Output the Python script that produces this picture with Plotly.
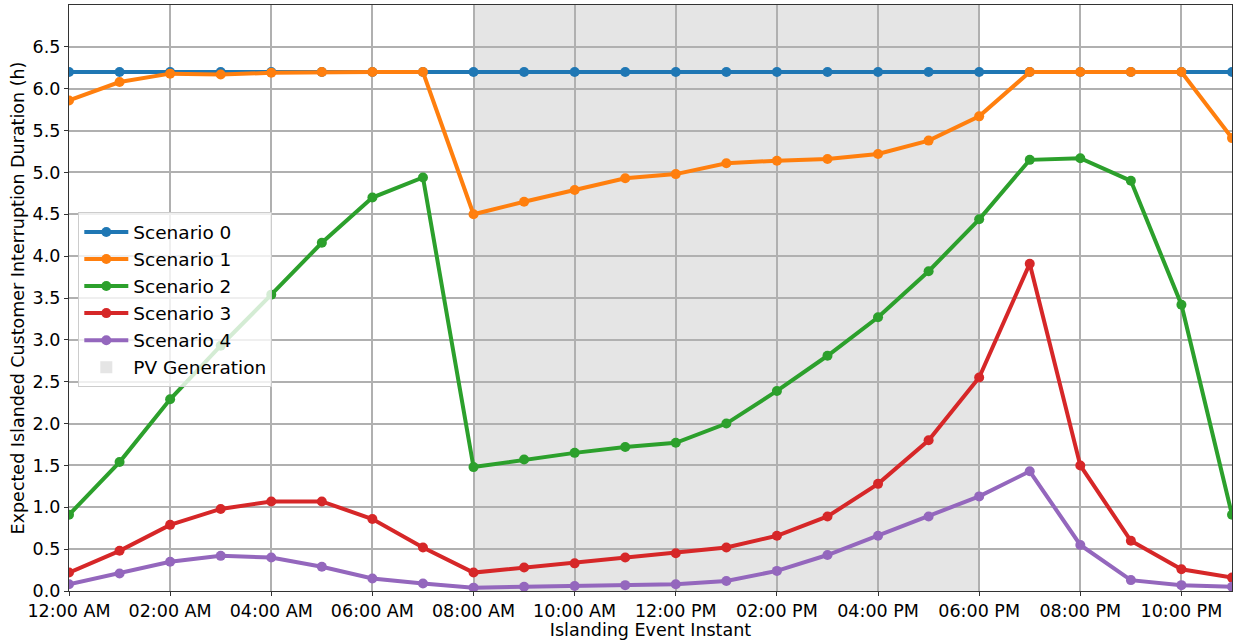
import plotly.graph_objects as go

# Hourly islanding instants over one day
hours = [f"2020-01-01 {h:02d}:00" for h in range(24)]

scenario_0 = [6.20] * 24
scenario_1 = [5.86, 6.08, 6.18, 6.17, 6.19, 6.20, 6.20, 6.20, 4.50, 4.65, 4.79, 4.93,
              4.98, 5.11, 5.14, 5.16, 5.22, 5.38, 5.67, 6.20, 6.20, 6.20, 6.20, 5.41]
scenario_2 = [0.91, 1.54, 2.29, 2.93, 3.54, 4.16, 4.70, 4.94, 1.48, 1.57, 1.65, 1.72,
              1.77, 2.00, 2.39, 2.81, 3.27, 3.82, 4.44, 5.15, 5.17, 4.90, 3.42, 0.91]
scenario_3 = [0.22, 0.48, 0.79, 0.98, 1.07, 1.07, 0.86, 0.52, 0.22, 0.28, 0.33, 0.40,
              0.45, 0.52, 0.66, 0.89, 1.28, 1.80, 2.55, 3.91, 1.50, 0.60, 0.26, 0.16]
scenario_4 = [0.08, 0.21, 0.35, 0.42, 0.40, 0.29, 0.15, 0.09, 0.04, 0.05, 0.06, 0.07,
              0.08, 0.12, 0.24, 0.43, 0.66, 0.89, 1.13, 1.43, 0.55, 0.13, 0.07, 0.05]

series_names = ["Scenario 0", "Scenario 1", "Scenario 2", "Scenario 3", "Scenario 4"]
series_values = [scenario_0, scenario_1, scenario_2, scenario_3, scenario_4]
colors = ["#1f77b4", "#ff7f0e", "#2ca02c", "#d62728", "#9467bd"]

pv_start, pv_end = "2020-01-01 08:00", "2020-01-01 18:00"
x_ticks = [f"2020-01-01 {h:02d}:00" for h in range(0, 24, 2)]
y_ticks = [0.0, 0.5, 1.0, 1.5, 2.0, 2.5, 3.0, 3.5, 4.0, 4.5, 5.0, 5.5, 6.0, 6.5]

FONT = "DejaVu Sans, Liberation Sans, sans-serif"

fig = go.Figure()

for name, vals, col in zip(series_names, series_values, colors):
    fig.add_trace(go.Scatter(
        x=hours, y=vals, name=name, mode="lines+markers",
        line=dict(color=col, width=4),
        marker=dict(color=col, size=10),
    ))

# PV generation window, under the grid
fig.add_shape(
    type="rect", xref="x", yref="paper",
    x0=pv_start, x1=pv_end, y0=0, y1=1,
    fillcolor="#e5e5e5", line=dict(width=0), layer="below",
    showlegend=True, name="PV Generation", legendrank=1001,
)

axis_common = dict(
    showgrid=True, gridcolor="#b0b0b0", gridwidth=1.6,
    showline=True, linecolor="#333333", linewidth=1.3, mirror=True,
    ticks="outside", ticklen=4, tickcolor="#333333", tickwidth=1.2,
    tickfont=dict(family=FONT, size=17.5, color="#000000"),
    zeroline=False,
)

fig.update_xaxes(
    **axis_common,
    range=[hours[0], hours[-1]],
    tickvals=x_ticks, tickformat="%I:%M %p",
    title=dict(text="Islanding Event Instant", standoff=3,
               font=dict(family=FONT, size=17.5, color="#000000")),
)
fig.update_yaxes(
    **axis_common,
    range=[0, 7], tickvals=y_ticks, tickformat=".1f",
    title=dict(text="Expected Islanded Customer Interruption Duration (h)", standoff=3,
               font=dict(family=FONT, size=17.5, color="#000000")),
)

fig.update_layout(
    width=1238, height=640,
    margin=dict(l=69, r=6, t=4, b=48),
    paper_bgcolor="white", plot_bgcolor="white",
    font=dict(family=FONT, size=17.5, color="#000000"),
    legend=dict(
        x=0.008, y=0.646, xanchor="left", yanchor="top",
        bgcolor="rgba(255,255,255,0.8)", bordercolor="#cccccc", borderwidth=1,
        font=dict(family=FONT, size=18.5, color="#000000"),
        itemwidth=44, tracegroupgap=0,
    ),
)

fig.write_html("out.html")
